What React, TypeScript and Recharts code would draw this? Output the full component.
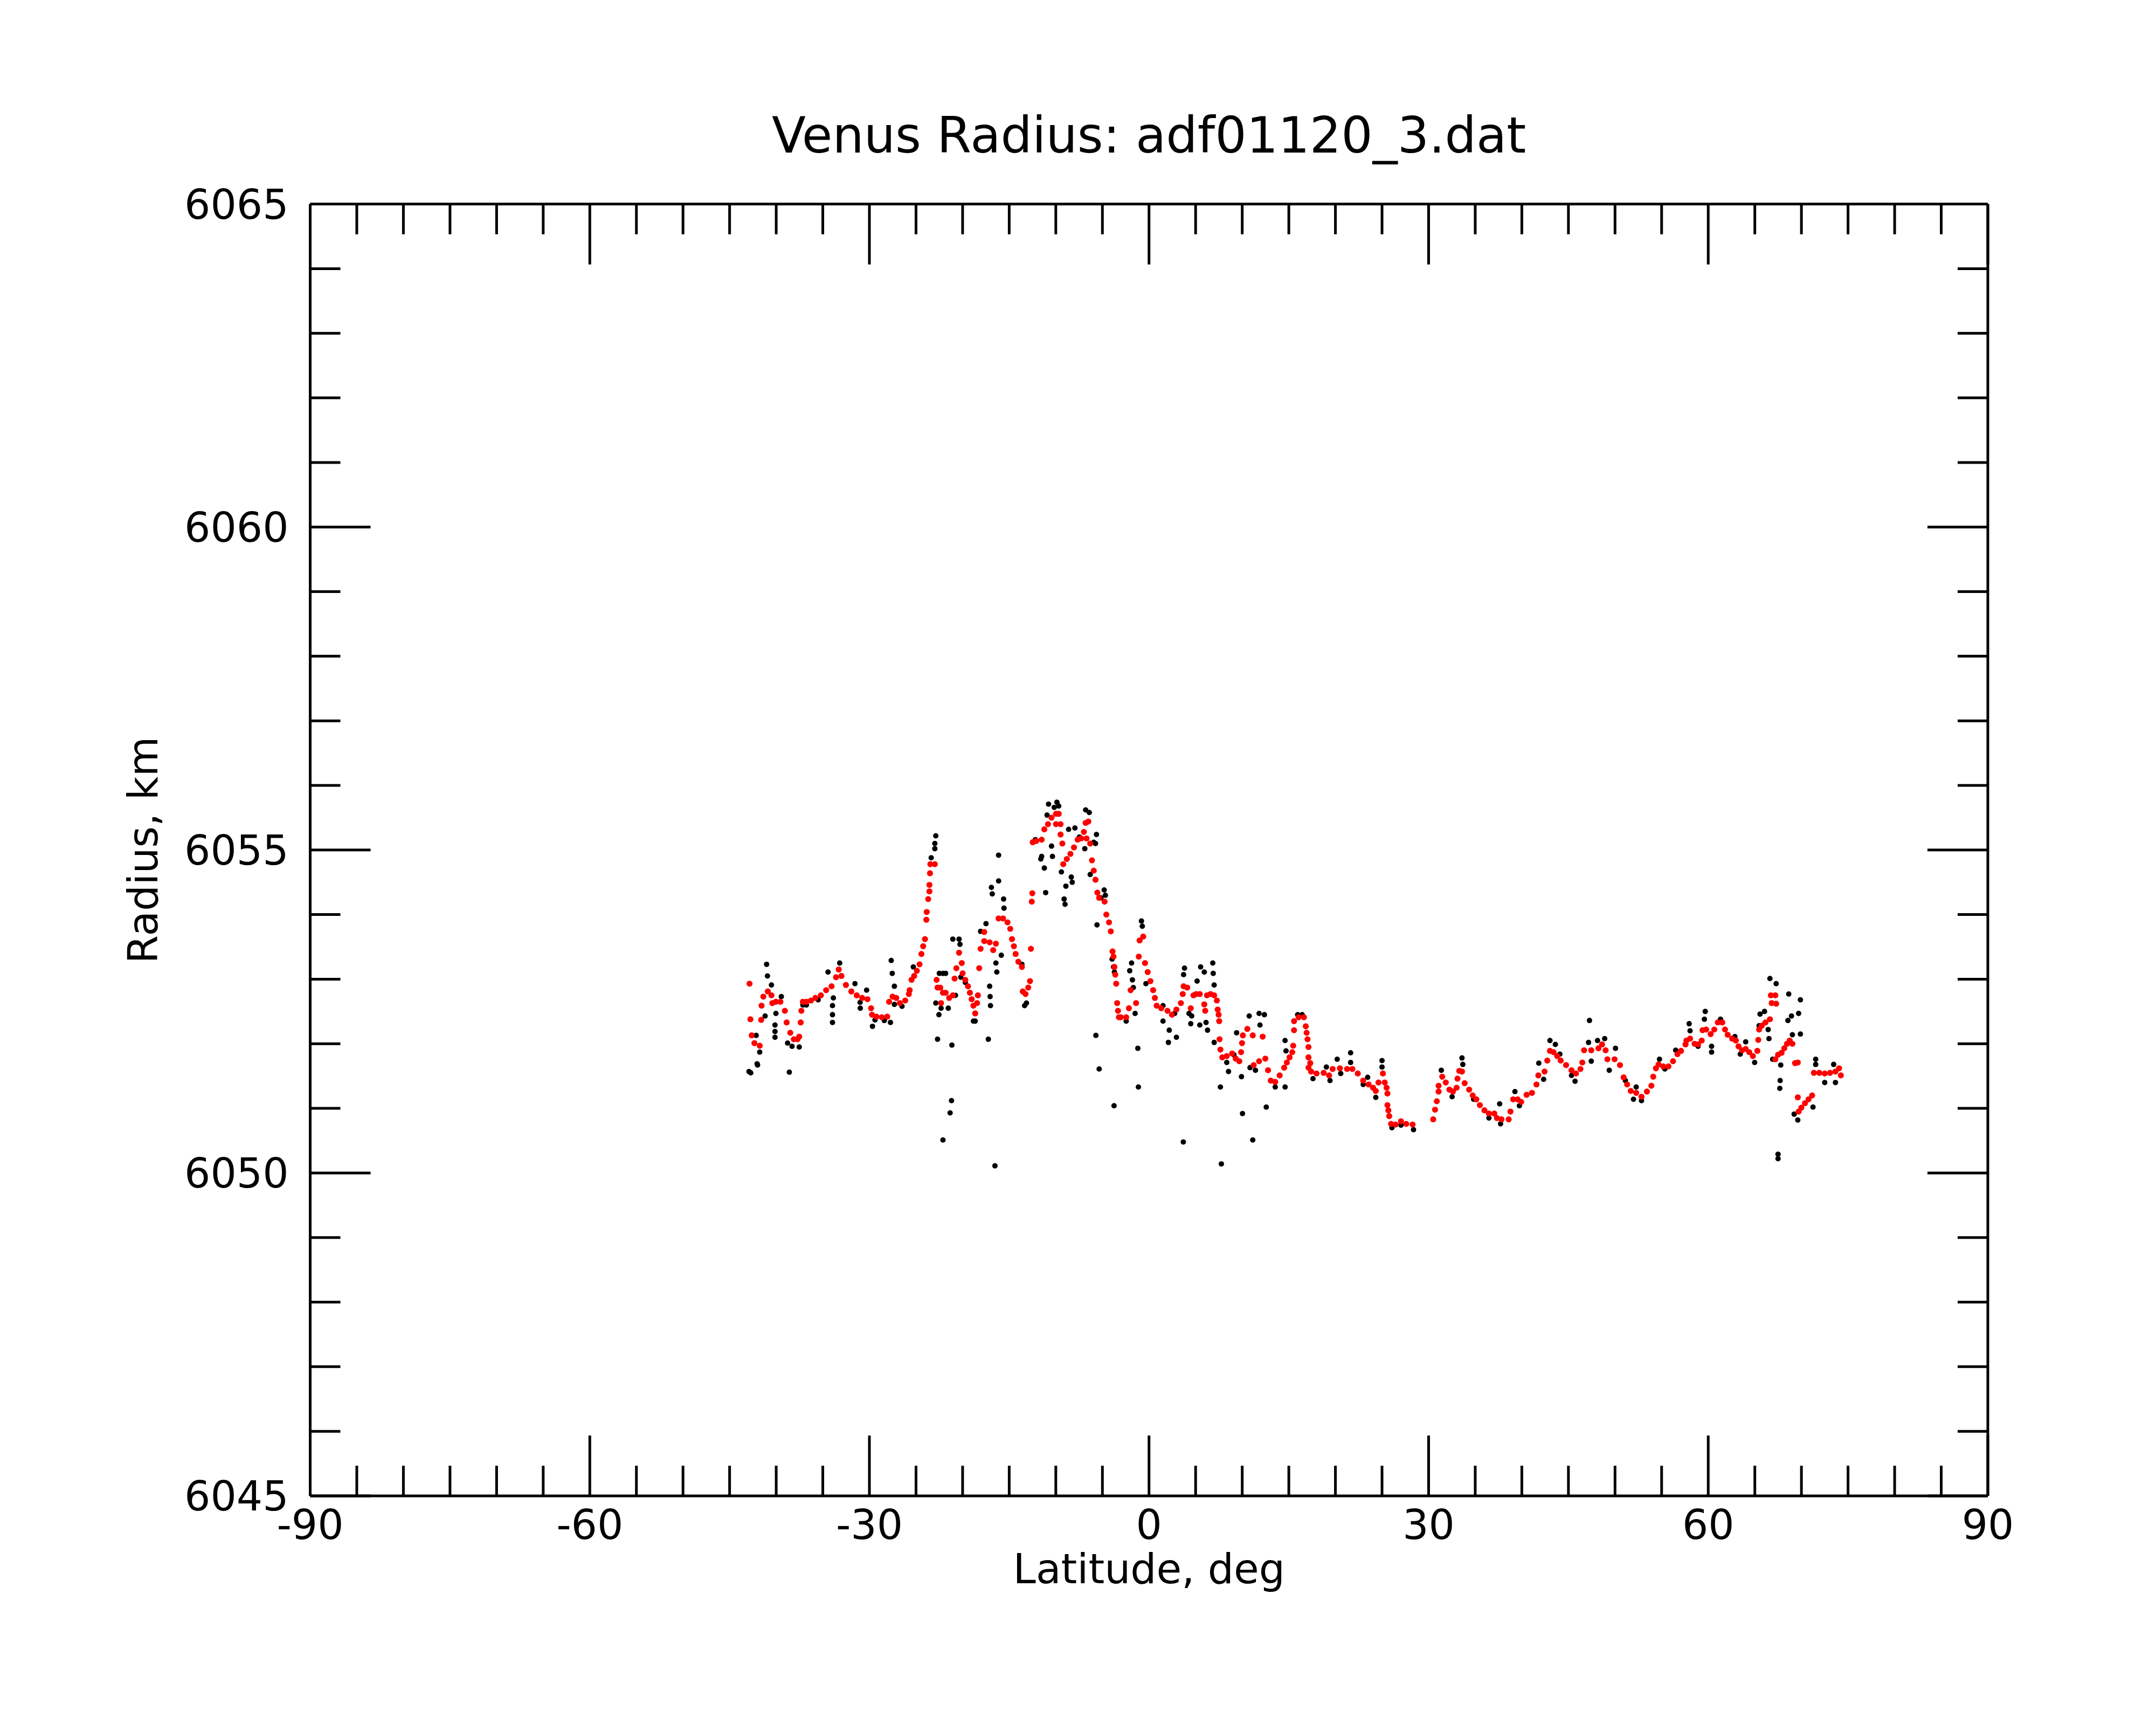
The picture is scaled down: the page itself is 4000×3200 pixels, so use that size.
import React from "react";
import { ScatterChart, Scatter, XAxis, YAxis } from "recharts";

// ticks: minor every 5 deg / 1 km, majors every 30 deg / 5 km
const latTicks = [
  -90, -85, -80, -75, -70, -65, -60, -55, -50, -45, -40, -35, -30, -25, -20, -15, -10, -5, 0, 5, 10, 15,
  20, 25, 30, 35, 40, 45, 50, 55, 60, 65, 70, 75, 80, 85, 90,
];
const radiusTicks = [
  6045, 6046, 6047, 6048, 6049, 6050, 6051, 6052, 6053, 6054, 6055, 6056, 6057, 6058, 6059, 6060, 6061,
  6062, 6063, 6064, 6065,
];

// red series (smoothed radius)
const redLat = [
  -42.86, -42.77, -42.63, -42.34, -41.77, -41.61, -41.57, -41.38, -40.9, -40.51, -40.42, -40.03, -39.55,
  -39.07, -38.88, -38.49, -38.11, -37.72, -37.53, -37.37, -37.3, -37.14, -36.76, -36.27, -35.79, -35.21,
  -34.64, -34.06, -33.58, -33.29, -33.0, -32.52, -31.94, -31.36, -30.78, -30.21, -29.82, -29.72, -29.24,
  -28.66, -28.09, -27.89, -27.51, -27.12, -26.74, -26.16, -25.77, -25.68, -25.48, -25.2, -24.91, -24.62,
  -24.42, -24.23, -24.04, -23.89, -23.85, -23.69, -23.56, -23.56, -23.5, -23.46, -22.98, -22.79, -22.69,
  -22.4, -22.31, -22.11, -21.82, -21.44, -21.05, -20.86, -20.67, -20.38, -20.09, -20.0, -19.71, -19.42,
  -19.22, -19.03, -18.84, -18.65, -18.45, -18.36, -18.22, -18.07, -17.68, -17.68, -17.1, -16.72, -16.43,
  -16.14, -15.66, -15.18, -14.89, -14.7, -14.5, -14.31, -14.02, -13.64, -13.54, -13.25, -12.96, -12.77,
  -12.67, -12.58, -12.52, -12.48, -12.1, -11.52, -11.23, -10.84, -10.46, -9.98, -9.69, -9.98, -9.49, -9.49,
  -9.3, -9.2, -8.82, -8.43, -8.05, -7.66, -7.28, -6.99, -6.8, -6.51, -6.7, -6.31, -6.12, -5.93, -5.74, -5.54,
  -5.35, -4.77, -4.58, -4.29, -4.1, -3.91, -3.81, -3.71, -3.62, -3.52, -3.42, -3.33, -3.23, -3.03, -2.45,
  -2.16, -1.97, -1.39, -1.1, -1.01, -0.62, -0.43, -0.14, 0.15, 0.44, 0.63, 0.82, 1.31, 1.98, 2.46, 2.94, 3.42,
  3.62, 3.71, 4.1, 4.48, 4.77, 5.06, 5.45, 5.93, 6.03, 6.22, 6.6, 6.99, 7.28, 7.37, 7.47, 7.53, 7.57, 7.66,
  7.86, 8.34, 8.92, 9.3, 9.69, 9.88, 9.98, 10.07, 10.55, 11.13, 11.23, 11.81, 12.19, 12.48, 12.77, 13.06,
  13.54, 14.02, 14.5, 14.79, 15.08, 15.37, 15.47, 15.56, 15.56, 16.05, 16.62, 16.82, 16.91, 17.01, 17.11,
  17.11, 17.11, 17.3, 17.39, 17.97, 18.74, 19.32, 19.7, 20.48, 21.25, 21.82, 22.4, 22.98, 23.56, 24.04,
  24.33, 24.62, 25.1, 25.29, 25.49, 25.58, 25.58, 25.68, 25.77, 25.97, 26.45, 27.03, 27.6, 28.28, 30.49,
  30.69, 30.88, 31.07, 31.07, 31.46, 31.84, 32.23, 32.61, 33.0, 33.1, 33.29, 33.58, 33.87, 34.35, 34.73,
  35.12, 35.5, 35.99, 36.47, 37.05, 37.33, 37.82, 38.59, 38.78, 39.07, 39.55, 39.93, 40.51, 41.09, 41.57,
  41.77, 42.44, 42.73, 43.02, 43.4, 43.79, 44.17, 44.75, 45.33, 45.81, 46.29, 46.49, 46.68, 47.45, 48.22,
  48.61, 48.99, 49.18, 49.95, 50.53, 50.92, 51.3, 51.69, 52.27, 52.84, 53.42, 53.9, 54.1, 54.39, 54.67,
  55.16, 55.73, 56.22, 56.7, 57.08, 57.56, 57.66, 58.05, 58.53, 58.91, 59.3, 59.39, 59.78, 60.26, 60.65,
  61.03, 61.51, 61.8, 62.09, 62.57, 62.96, 63.25, 63.63, 64.02, 64.4, 64.79, 65.27, 65.37, 65.46, 65.75,
  66.14, 66.62, 66.81, 67.29, 66.72, 67.2, 67.2, 67.49, 67.87, 68.16, 68.45, 68.74, 69.03, 69.32, 69.61,
  69.61, 69.7, 69.99, 70.38, 70.76, 71.15, 71.34, 71.92, 72.5, 73.07, 73.65, 74.04, 74.23,
];
const redRadius = [
  6052.93, 6052.38, 6052.13, 6052.01, 6051.97, 6052.37, 6052.59, 6052.73, 6052.81, 6052.75, 6052.63,
  6052.65, 6052.65, 6052.51, 6052.33, 6052.17, 6052.07, 6052.07, 6052.11, 6052.33, 6052.51, 6052.65,
  6052.65, 6052.67, 6052.71, 6052.75, 6052.83, 6052.89, 6053.03, 6053.15, 6053.05, 6052.91, 6052.81,
  6052.75, 6052.71, 6052.69, 6052.55, 6052.45, 6052.42, 6052.41, 6052.42, 6052.65, 6052.73, 6052.71,
  6052.63, 6052.67, 6052.77, 6052.83, 6052.99, 6053.05, 6053.13, 6053.23, 6053.39, 6053.51, 6053.62,
  6053.92, 6054.04, 6054.24, 6054.36, 6054.46, 6054.64, 6054.78, 6054.78, 6052.99, 6052.87, 6052.87,
  6052.63, 6052.79, 6052.79, 6052.71, 6052.75, 6053.01, 6053.17, 6053.41, 6053.25, 6053.09, 6052.99,
  6052.89, 6052.79, 6052.69, 6052.59, 6052.47, 6052.63, 6052.75, 6053.17, 6053.47, 6053.59, 6053.73,
  6053.57, 6053.45, 6053.55, 6053.94, 6053.94, 6053.88, 6053.78, 6053.62, 6053.51, 6053.39, 6053.27,
  6053.19, 6052.81, 6052.77, 6052.87, 6052.97, 6053.47, 6054.2, 6054.33, 6055.12, 6055.14, 6055.16,
  6055.32, 6055.4, 6055.5, 6055.56, 6055.56, 6055.4, 6055.4, 6055.24, 6055.1, 6054.78, 6054.86, 6054.94,
  6055.04, 6055.16, 6055.18, 6055.28, 6055.42, 6055.44, 6055.18, 6055.1, 6054.84, 6054.68, 6054.54,
  6054.34, 6054.26, 6054.2, 6054.0, 6053.88, 6053.74, 6053.43, 6053.35, 6053.19, 6053.07, 6052.93,
  6052.63, 6052.51, 6052.41, 6052.41, 6052.41, 6052.55, 6052.83, 6052.63, 6053.35, 6053.6, 6053.66,
  6053.25, 6053.11, 6052.97, 6052.83, 6052.71, 6052.59, 6052.55, 6052.51, 6052.45, 6052.53, 6052.63,
  6052.77, 6052.89, 6052.87, 6052.55, 6052.75, 6052.77, 6052.77, 6052.61, 6052.51, 6052.75, 6052.77,
  6052.75, 6052.67, 6052.53, 6052.45, 6052.35, 6052.07, 6051.91, 6051.79, 6051.81, 6051.85, 6051.77,
  6051.73, 6051.87, 6052.01, 6052.13, 6052.23, 6052.13, 6051.67, 6051.73, 6052.11, 6051.77, 6051.59,
  6051.43, 6051.41, 6051.51, 6051.63, 6051.71, 6051.79, 6051.87, 6051.97, 6052.21, 6052.35, 6052.41,
  6052.41, 6052.27, 6052.17, 6052.07, 6051.95, 6051.79, 6051.63, 6051.7, 6051.57, 6051.54, 6051.55,
  6051.51, 6051.61, 6051.62, 6051.61, 6051.61, 6051.54, 6051.43, 6051.37, 6051.32, 6051.27, 6051.4,
  6051.54, 6051.4, 6051.32, 6051.23, 6051.05, 6050.97, 6050.88, 6050.76, 6050.75, 6050.8, 6050.76,
  6050.75, 6050.83, 6050.98, 6051.11, 6051.26, 6051.35, 6051.49, 6051.4, 6051.29, 6051.26, 6051.32,
  6051.46, 6051.58, 6051.57, 6051.39, 6051.29, 6051.2, 6051.14, 6051.05, 6050.97, 6050.92, 6050.92,
  6050.85, 6050.83, 6050.83, 6050.95, 6051.14, 6051.14, 6051.1, 6051.21, 6051.24, 6051.37, 6051.51,
  6051.57, 6051.74, 6051.89, 6051.87, 6051.81, 6051.74, 6051.67, 6051.59, 6051.54, 6051.61, 6051.71,
  6051.9, 6051.9, 6051.93, 6051.99, 6051.9, 6051.76, 6051.76, 6051.67, 6051.48, 6051.37, 6051.27,
  6051.24, 6051.18, 6051.26, 6051.35, 6051.49, 6051.62, 6051.68, 6051.65, 6051.65, 6051.73, 6051.84,
  6051.89, 6051.99, 6052.05, 6052.08, 6052.0, 6051.99, 6052.05, 6052.21, 6052.22, 6052.15, 6052.22,
  6052.33, 6052.33, 6052.22, 6052.14, 6052.08, 6052.05, 6051.96, 6051.9, 6051.92, 6051.87, 6051.81,
  6051.89, 6052.06, 6052.22, 6052.28, 6052.33, 6052.38, 6052.63, 6052.62, 6052.75, 6052.75, 6051.76,
  6051.83, 6051.86, 6051.93, 6052.0, 6052.05, 6052.0, 6051.7, 6051.71, 6051.17, 6050.95, 6051.01,
  6051.08, 6051.14, 6051.2, 6051.55, 6051.55, 6051.54, 6051.55, 6051.57, 6051.62, 6051.51,
];

// black series (raw radius samples)
const blackLat = [
  -42.92, -42.73, -42.05, -42.0, -42.15, -41.77, -41.19, -41.03, -40.94, -40.51, -40.13, -40.13, -40.13,
  -40.03, -39.45, -38.78, -38.59, -38.3, -37.53, -37.14, -36.76, -35.5, -34.44, -33.96, -33.96, -33.96,
  -33.87, -33.19, -31.55, -31.0, -30.98, -30.3, -29.67, -29.4, -28.4, -27.74, -27.66, -27.55, -27.32,
  -27.32, -26.5, -25.29, -23.37, -22.88, -22.98, -22.98, -22.69, -22.54, -22.88, -22.11, -21.15, -21.19,
  -21.34, -16.53, -21.05, -20.38, -20.28, -22.11, -21.82, -21.54, -18.65, -17.49, -16.91, -16.82, -16.14,
  -16.14, -15.6, -15.56, -16.43, -16.33, -15.85, -17.1, -17.05, -17.01, -17.24, -13.35, -13.15, -11.52,
  -11.23, -11.09, -10.78, -9.88, -9.69, -10.46, -10.36, -9.4, -8.92, -8.34, -8.24, -9.11, -9.01, -8.63,
  -7.95, -6.8, -6.41, -5.64, -5.74, -5.58, -4.81, -5.7, -5.35, -3.75, -3.81, -12.19, -11.61, -10.94,
  -10.17, -7.47, -6.89, -5.93, -6.31, -5.16, -4.68, -3.96, -3.71, -20.19, -19.71, -18.84, -22.31, -20.77,
  -22.5, -13.64, -18.07, -0.81, -0.72, -1.87, -2.07, -1.78, -1.68, -1.49, -1.2, -1.14, -0.33, 1.5, 2.17,
  2.08, 2.94, 3.68, 3.81, 3.71, 4.58, 4.48, 5.54, 5.93, 5.16, 5.45, 6.12, 6.28, 6.84, 6.89, 6.99, 6.99,
  7.66, 7.76, 8.53, 9.4, 9.92, 10.03, 10.75, 11.13, 11.81, 11.9, 12.38, 12.58, 14.6, 14.6, 14.7, -2.45,
  1.5, 2.75, 4.29, 8.34, 9.11, 13.54, 10.84, 11.42, 15.95, 16.43, 21.63, 21.63, 20.19, 19.03, 25.0, 25.0,
  24.33, 28.38, 33.58, 33.67, 31.36, 32.52, 17.59, 19.42, 20.57, 22.98, 26.06, 27.03, 23.46, 34.83, 36.47,
  47.26, 47.16, 47.45, 48.89, 48.12, 50.05, 49.38, 43.02, 41.82, 42.34, 45.71, 39.26, 39.74, 37.62, 37.72,
  51.98, 52.27, 54.77, 43.6, 44.08, 45.33, 51.11, 52.84, 56.51, 55.35, 66.62, 67.29, 68.64, 69.89, 69.7,
  68.93, 68.55, 65.56, 66.04, 66.43, 66.52, 65.46, 69.89, 69.03, 67.78, 67.72, 67.68, 67.49, 67.49, 66.91,
  69.61, 69.22, 71.24, 71.53, 71.53, 72.5, 73.46, 73.65, 59.68, 59.59, 57.95, 58.05, 60.36, 60.36, 64.02,
  64.98, 58.91, 63.44, 61.32, 62.86,
];
const blackRadius = [
  6051.57, 6051.55, 6051.69, 6051.67, 6052.13, 6051.87, 6052.43, 6053.23, 6053.05, 6052.91, 6052.29,
  6052.19, 6052.1, 6052.47, 6052.73, 6052.01, 6051.56, 6051.96, 6051.95, 6052.6, 6052.6, 6052.68,
  6053.11, 6052.59, 6052.45, 6052.33, 6052.71, 6053.25, 6052.93, 6052.64, 6052.55, 6052.83, 6052.27,
  6052.37, 6052.36, 6052.33, 6053.29, 6053.09, 6052.89, 6052.61, 6052.58, 6053.19, 6054.88, 6055.22,
  6055.1, 6055.02, 6052.07, 6052.45, 6052.63, 6050.51, 6051.98, 6051.12, 6050.93, 6050.11, 6053.62,
  6053.62, 6053.54, 6053.09, 6053.09, 6052.55, 6052.35, 6053.86, 6054.42, 6054.32, 6054.92, 6054.52,
  6054.24, 6054.1, 6053.25, 6053.11, 6053.37, 6052.89, 6052.73, 6052.59, 6052.07, 6052.59, 6052.63,
  6054.9, 6054.72, 6054.34, 6055.71, 6055.74, 6055.68, 6055.06, 6054.9, 6054.66, 6054.44, 6054.58,
  6054.5, 6054.24, 6054.16, 6055.32, 6055.34, 6055.62, 6055.58, 6055.24, 6055.1, 6053.84, 6054.38,
  6052.13, 6051.61, 6051.04, 6053.19, 6055.16, 6054.86, 6055.54, 6055.66, 6055.2, 6055.02, 6055.12,
  6054.62, 6054.26, 6054.3, 6053.31, 6053.11, 6053.03, 6052.95, 6052.35, 6052.55, 6052.75, 6053.09,
  6053.23, 6053.74, 6053.9, 6053.82, 6053.25, 6053.13, 6052.99, 6052.87, 6052.47, 6051.93, 6051.33,
  6052.93, 6052.35, 6052.21, 6052.02, 6052.1, 6050.48, 6053.17, 6053.07, 6052.43, 6052.31, 6053.19,
  6053.11, 6052.97, 6052.29, 6052.33, 6052.21, 6053.25, 6053.09, 6052.91, 6052.02, 6051.33, 6050.14,
  6051.57, 6052.17, 6051.49, 6050.92, 6052.43, 6050.51, 6052.47, 6052.29, 6052.45, 6051.02, 6052.05,
  6051.33, 6051.89, 6052.35, 6052.59, 6052.47, 6052.47, 6051.71, 6051.83, 6051.33, 6051.63, 6051.59,
  6052.45, 6052.45, 6051.86, 6051.71, 6051.76, 6051.64, 6051.74, 6051.64, 6051.17, 6050.67, 6051.78,
  6051.68, 6051.59, 6051.18, 6051.46, 6051.43, 6051.54, 6051.37, 6050.7, 6050.74, 6051.48, 6051.14,
  6050.85, 6052.36, 6052.02, 6051.73, 6052.08, 6052.05, 6051.93, 6051.59, 6052.05, 6051.7, 6051.45,
  6051.42, 6051.26, 6051.04, 6051.07, 6050.76, 6051.14, 6051.33, 6051.76, 6051.99, 6051.84, 6051.51,
  6051.43, 6051.12, 6051.9, 6051.61, 6053.01, 6052.93, 6052.77, 6052.68, 6052.47, 6052.43, 6052.36,
  6052.46, 6052.5, 6052.22, 6052.08, 6052.28, 6052.15, 6052.14, 6051.67, 6051.43, 6051.31, 6050.29,
  6050.22, 6051.76, 6050.82, 6050.91, 6051.02, 6051.76, 6051.68, 6051.4, 6051.68, 6051.4, 6052.5,
  6052.38, 6052.31, 6052.2, 6051.96, 6051.87, 6052.03, 6051.71, 6051.96, 6051.84, 6052.38, 6052.11,
];

const toPoints = (lat: number[], radius: number[]) => lat.map((v, i) => ({ lat: v, radius: radius[i] }));
const redPoints = toPoints(redLat, redRadius);
const blackPoints = toPoints(blackLat, blackRadius);

const FONT = "DejaVu Sans";
const INK = "#000000";
const LINE_W = 5;
const MAJOR_LEN = 112;
const MINOR_LEN = 56;

const isMajorLat = (v: number) => v % 30 === 0;
const isMajorRadius = (v: number) => v % 5 === 0;

function BottomTick(props: any) {
  const { x, y, payload } = props;
  const major = isMajorLat(payload.value);
  return (
    <g>
      <line x1={x} y1={y} x2={x} y2={y - (major ? MAJOR_LEN : MINOR_LEN)} stroke={INK} strokeWidth={LINE_W} />
      {major && (
        <text x={x} y={y + 80} textAnchor="middle" fontFamily={FONT} fontSize={76} fill={INK}>
          {payload.value}
        </text>
      )}
    </g>
  );
}

function TopTick(props: any) {
  const { x, y, payload } = props;
  const len = isMajorLat(payload.value) ? MAJOR_LEN : MINOR_LEN;
  return <line x1={x} y1={y} x2={x} y2={y + len} stroke={INK} strokeWidth={LINE_W} />;
}

function LeftTick(props: any) {
  const { x, y, payload } = props;
  const major = isMajorRadius(payload.value);
  return (
    <g>
      <line x1={x} y1={y} x2={x + (major ? MAJOR_LEN : MINOR_LEN)} y2={y} stroke={INK} strokeWidth={LINE_W} />
      {major && (
        <text x={x - 40} y={y + 27} textAnchor="end" fontFamily={FONT} fontSize={76} fill={INK}>
          {payload.value}
        </text>
      )}
    </g>
  );
}

function RightTick(props: any) {
  const { x, y, payload } = props;
  const len = isMajorRadius(payload.value) ? MAJOR_LEN : MINOR_LEN;
  return <line x1={x} y1={y} x2={x - len} y2={y} stroke={INK} strokeWidth={LINE_W} />;
}

const frame = { stroke: INK, strokeWidth: LINE_W };

export default function App() {
  return (
    <div style={{ position: "absolute", left: 0, top: 0, width: 4000, height: 3200, background: "#fff" }}>
      <ScatterChart width={4000} height={3200} margin={{ top: 377.6, right: 311, bottom: 424, left: 574.5 }}>
        <XAxis
          xAxisId="bottom"
          dataKey="lat"
          type="number"
          domain={[-90, 90]}
          ticks={latTicks}
          interval={0}
          orientation="bottom"
          height={1}
          tickSize={0}
          tickMargin={0}
          tickLine={false}
          axisLine={frame}
          tick={<BottomTick />}
        />
        <XAxis
          xAxisId="top"
          dataKey="lat"
          type="number"
          domain={[-90, 90]}
          ticks={latTicks}
          interval={0}
          orientation="top"
          height={1}
          tickSize={0}
          tickMargin={0}
          tickLine={false}
          axisLine={frame}
          tick={<TopTick />}
        />
        <YAxis
          yAxisId="left"
          dataKey="radius"
          type="number"
          domain={[6045, 6065]}
          ticks={radiusTicks}
          interval={0}
          orientation="left"
          width={1}
          tickSize={0}
          tickMargin={0}
          tickLine={false}
          axisLine={frame}
          tick={<LeftTick />}
        />
        <YAxis
          yAxisId="right"
          dataKey="radius"
          type="number"
          domain={[6045, 6065]}
          ticks={radiusTicks}
          interval={0}
          orientation="right"
          width={1}
          tickSize={0}
          tickMargin={0}
          tickLine={false}
          axisLine={frame}
          tick={<RightTick />}
        />
        {/* the raw samples sit on the mirrored top/right axes (same domains) so those get their ticks */}
        <Scatter
          data={blackPoints}
          xAxisId="top"
          yAxisId="right"
          isAnimationActive={false}
          shape={(p: any) => <circle cx={p.cx} cy={p.cy} r={5} fill="#000000" />}
        />
        <Scatter
          data={redPoints}
          xAxisId="bottom"
          yAxisId="left"
          isAnimationActive={false}
          shape={(p: any) => <circle cx={p.cx} cy={p.cy} r={5.6} fill="#ff0000" />}
        />
      </ScatterChart>
      <svg width={4000} height={3200} style={{ position: "absolute", left: 0, top: 0, pointerEvents: "none" }}>
        <text x={2131.75} y={283} textAnchor="middle" fontFamily={FONT} fontSize={92} fill={INK}>
          Venus Radius: adf01120_3.dat
        </text>
        <text x={2131.75} y={2937} textAnchor="middle" fontFamily={FONT} fontSize={76} fill={INK}>
          Latitude, deg
        </text>
        <text
          x={292}
          y={1577}
          transform="rotate(-90, 292, 1577)"
          textAnchor="middle"
          fontFamily={FONT}
          fontSize={76}
          fill={INK}
        >
          Radius, km
        </text>
      </svg>
    </div>
  );
}
